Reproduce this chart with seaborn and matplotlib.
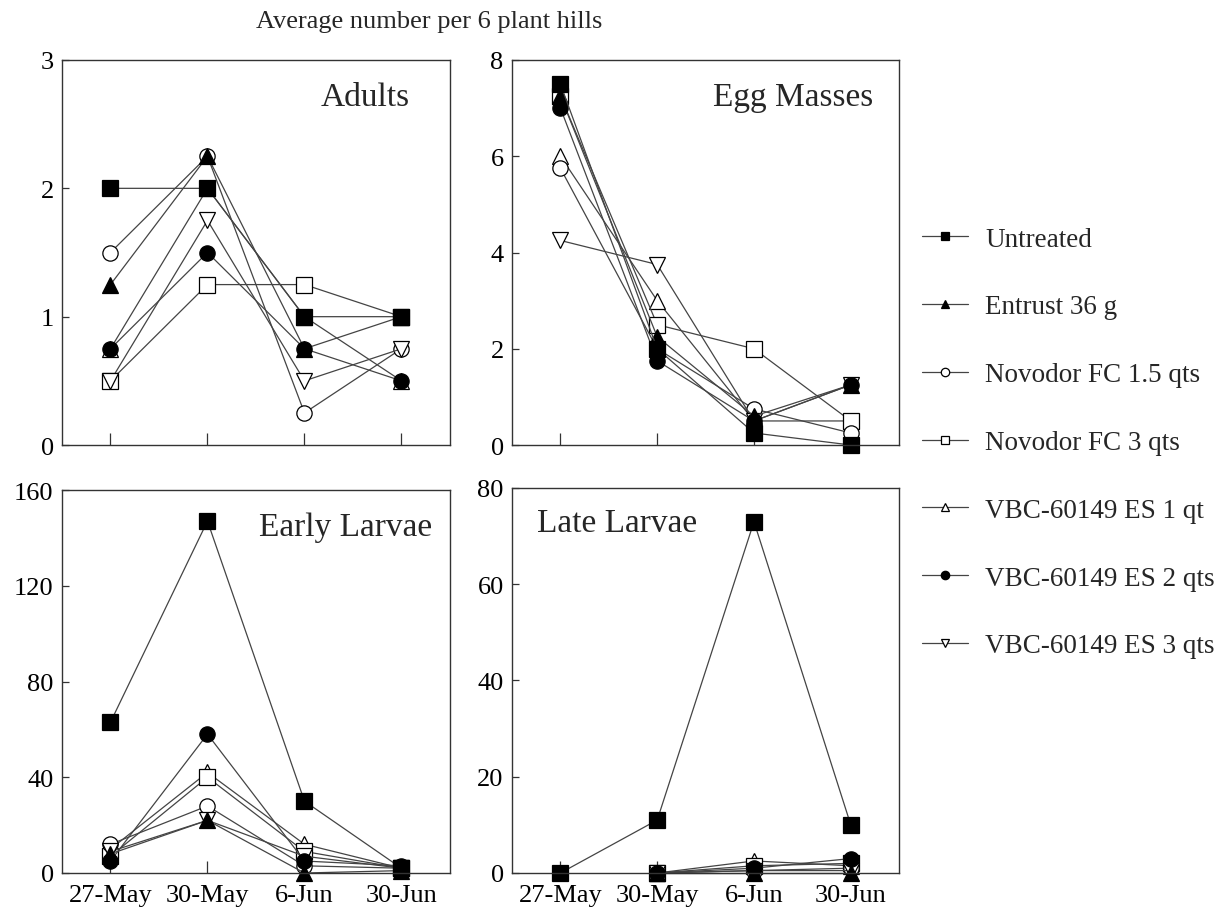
"""Colorado potato beetle counts per treatment, four life stages."""

import numpy as np
import pandas as pd
import matplotlib
matplotlib.use("Agg")
import matplotlib.pyplot as plt
import seaborn as sns

dates = ["27-May", "30-May", "6-Jun", "30-Jun"]
treatments = ["Untreated", "Entrust 36 g", "Novodor FC 1.5 qts", "Novodor FC 3 qts",
              "VBC-60149 ES 1 qt", "VBC-60149 ES 2 qts", "VBC-60149 ES 3 qts"]

adults = {
    "Untreated": [2.0, 2.0, 1.0, 1.0],
    "Entrust 36 g": [1.25, 2.25, 0.75, 1.0],
    "Novodor FC 1.5 qts": [1.5, 2.25, 0.25, 0.75],
    "Novodor FC 3 qts": [0.5, 1.25, 1.25, 1.0],
    "VBC-60149 ES 1 qt": [0.75, 2.0, 1.0, 0.5],
    "VBC-60149 ES 2 qts": [0.75, 1.5, 0.75, 0.5],
    "VBC-60149 ES 3 qts": [0.5, 1.75, 0.5, 0.75],
}
egg_masses = {
    "Untreated": [7.5, 2.0, 0.25, 0.0],
    "Entrust 36 g": [7.25, 2.25, 0.6, 1.25],
    "Novodor FC 1.5 qts": [5.75, 2.0, 0.75, 0.25],
    "Novodor FC 3 qts": [7.25, 2.5, 2.0, 0.5],
    "VBC-60149 ES 1 qt": [6.0, 3.0, 0.5, 0.5],
    "VBC-60149 ES 2 qts": [7.0, 1.75, 0.5, 1.25],
    "VBC-60149 ES 3 qts": [4.25, 3.75, 0.5, 1.25],
}
early_larvae = {
    "Untreated": [63, 147, 30, 2],
    "Entrust 36 g": [8, 22, 0, 1],
    "Novodor FC 1.5 qts": [12, 28, 3, 2],
    "Novodor FC 3 qts": [7, 40, 9, 2],
    "VBC-60149 ES 1 qt": [10, 42, 12, 2],
    "VBC-60149 ES 2 qts": [5, 58, 5, 3],
    "VBC-60149 ES 3 qts": [9, 22, 7, 2],
}
late_larvae = {
    "Untreated": [0, 11, 73, 10],
    "Entrust 36 g": [np.nan, 0, 0, 0],
    "Novodor FC 1.5 qts": [np.nan, 0, 0.5, 1],
    "Novodor FC 3 qts": [np.nan, 0, 1.5, 2],
    "VBC-60149 ES 1 qt": [np.nan, 0, 2.5, 1.5],
    "VBC-60149 ES 2 qts": [np.nan, 0, 1, 3],
    "VBC-60149 ES 3 qts": [np.nan, 0, 0.5, 0.5],
}

# marker, face colour, drawing order
styles = {
    "Untreated": ("s", "black", 9),
    "Entrust 36 g": ("^", "black", 7),
    "Novodor FC 1.5 qts": ("o", "white", 5),
    "Novodor FC 3 qts": ("s", "white", 4),
    "VBC-60149 ES 1 qt": ("^", "white", 3),
    "VBC-60149 ES 2 qts": ("o", "black", 8),
    "VBC-60149 ES 3 qts": ("v", "white", 6),
}

panels = [
    ("Adults", adults, [0, 1, 2, 3], (0.897, 0.905, "right")),
    ("Egg Masses", egg_masses, [0, 2, 4, 6, 8], (0.933, 0.905, "right")),
    ("Early Larvae", early_larvae, [0, 40, 80, 120, 160], (0.954, 0.905, "right")),
    ("Late Larvae", late_larvae, [0, 20, 40, 60, 80], (0.065, 0.91, "left")),
]

sns.set_style("ticks")
plt.rcParams["font.family"] = ["Liberation Serif", "DejaVu Serif"]
plt.rcParams["axes.edgecolor"] = "#333333"
plt.rcParams["axes.linewidth"] = 1.0

fig = plt.figure(figsize=(12.25, 9.2), dpi=100)
boxes = [
    [0.0506, 0.5152, 0.3167, 0.4185],
    [0.4180, 0.5152, 0.3160, 0.4185],
    [0.0506, 0.0500, 0.3167, 0.4163],
    [0.4180, 0.0500, 0.3160, 0.4185],
]

handles = {}
for i, (name, data, yticks, (tx, ty, ha)) in enumerate(panels):
    ax = fig.add_axes(boxes[i])
    for t in treatments:
        df = pd.DataFrame({"date": dates, "value": data[t]}).dropna()
        marker, face, z = styles[t]
        sns.lineplot(data=df, x="date", y="value", ax=ax, sort=False,
                     color="#444444", lw=0.9, marker=marker, ms=11 if marker != "s" else 11.5,
                     mfc=face, mec="black", mew=0.9, zorder=z, label=t, legend=False,
                     clip_on=False)
        handles[t] = ax.lines[-1]
    ax.set_xlim(-0.5, 3.5)
    ax.set_ylim(yticks[0], yticks[-1])
    ax.set_yticks(yticks)
    ax.set_xlabel("")
    ax.set_ylabel("")
    ax.tick_params(axis="y", direction="in", length=5, width=0.9, labelsize=19, pad=6,
                   colors="#333333", labelcolor="black")
    ax.tick_params(axis="x", direction="in", length=9, width=0.9, labelsize=19, pad=8,
                   colors="#333333", labelcolor="black")
    if i < 2:
        ax.tick_params(axis="x", labelbottom=False)
    ax.text(tx, ty, name, transform=ax.transAxes, ha=ha, va="center", fontsize=24)
    for sp in ax.spines.values():
        sp.set_visible(True)
        sp.set_zorder(10)

fig.text(0.35, 0.976, "Average number per 6 plant hills", ha="center", va="center", fontsize=19)

leg = fig.legend([handles[t] for t in treatments], treatments,
                 loc="upper left", bbox_to_anchor=(0.7327, 0.779), frameon=False,
                 fontsize=19.5, markerscale=0.55, handlelength=1.7, handletextpad=0.63,
                 labelspacing=1.58)

fig.savefig("out.png", dpi=100)
